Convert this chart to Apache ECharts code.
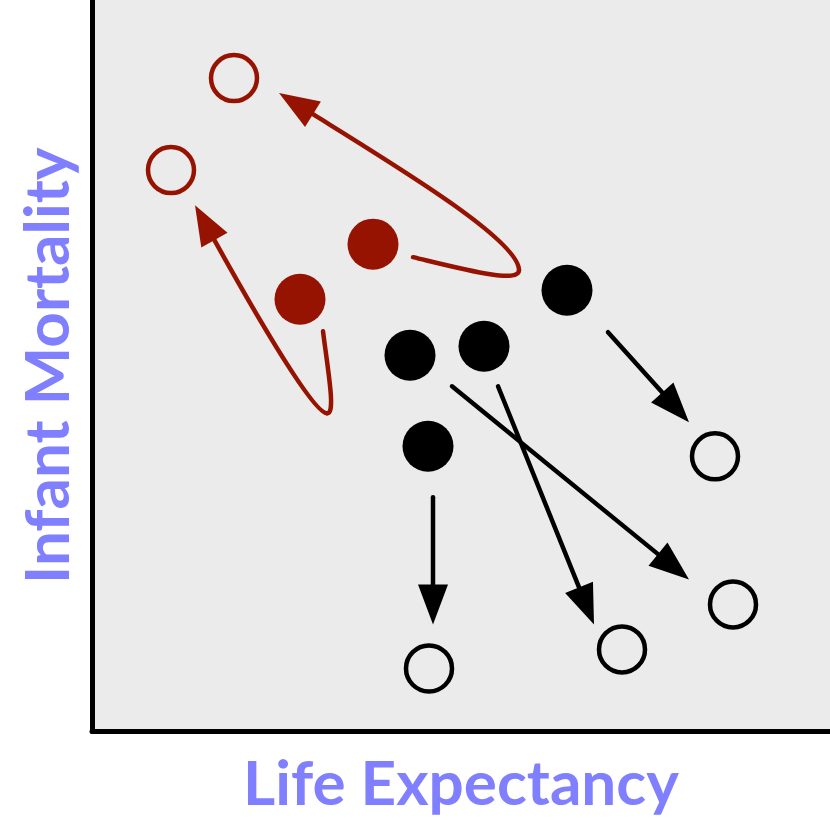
<!DOCTYPE html>
<html>
<head>
<meta charset="utf-8">
<script src="https://cdn.jsdelivr.net/npm/echarts@6/dist/echarts.min.js"></script>
<style>
html,body{margin:0;padding:0;background:#fff;}
#chart{width:830px;height:830px;}
</style>
</head>
<body>
<div id="chart"></div>
<script>
// Data values (abstract units, origin at lower-left of panel)
const xLabel = 'Life Expectancy';
const yLabel = 'Infant Mortality';

// Red "before" points
const redStart = [[281, 487], [208, 432]];
const redEnd = [[142, 653], [79, 561]];
// Black points
const blackStart = [[475, 441], [318, 376], [392, 385], [336, 285]];
const blackEnd = [[623, 275], [641, 127], [530, 82], [337, 63]];

// Straight black arrows: [fromX, fromY, toX(tip), toY(tip)]
const blackArrowFrom = [[516, 399], [360, 345], [406, 345], [341, 234]];
const blackArrowTo = [[597, 309], [597, 152], [502, 107], [341, 107]];

// Curved red arrows: start, ctrl1, ctrl2, turn, ctrl3, ctrl4, tip
const redCurveA = [[321, 474], [371, 462], [427, 447], [427, 461], [427, 491], [306, 564], [187, 638]];
const redCurveB = [[231, 400], [236, 360], [244, 317], [235, 318], [220, 318], [153, 436], [103, 526]];
const redCurves = [redCurveA, redCurveB];

const RED = '#951300';
const BLACK = '#000000';
const HEAD_LEN = 40, HEAD_HALF = 15, LW = 4.5;

function head(tip, from) {
  const dx = tip[0] - from[0], dy = tip[1] - from[1];
  const L = Math.hypot(dx, dy);
  const ux = dx / L, uy = dy / L;
  const base = [tip[0] - ux * HEAD_LEN, tip[1] - uy * HEAD_LEN];
  const px = -uy, py = ux;
  return {
    base: base,
    pts: [tip, [base[0] + px * HEAD_HALF, base[1] + py * HEAD_HALF], [base[0] - px * HEAD_HALF, base[1] - py * HEAD_HALF]]
  };
}

function renderStraight(params, api) {
  const a = api.coord(blackArrowFrom[params.dataIndex]);
  const t = api.coord(blackArrowTo[params.dataIndex]);
  const h = head(t, a);
  return {
    type: 'group',
    children: [
      { type: 'line', shape: { x1: a[0], y1: a[1], x2: h.base[0], y2: h.base[1] },
        style: { stroke: BLACK, lineWidth: LW, lineCap: 'round' } },
      { type: 'polygon', shape: { points: h.pts }, style: { fill: BLACK } }
    ]
  };
}

function renderCurve(params, api) {
  const c = redCurves[params.dataIndex].map(q => api.coord(q));
  const tip = c[6];
  const h = head(tip, c[5]);
  return {
    type: 'group',
    children: [
      { type: 'bezierCurve', shape: { x1: c[0][0], y1: c[0][1], cpx1: c[1][0], cpy1: c[1][1], cpx2: c[2][0], cpy2: c[2][1], x2: c[3][0], y2: c[3][1] },
        style: { stroke: RED, lineWidth: LW, fill: null, lineCap: 'round' } },
      { type: 'bezierCurve', shape: { x1: c[3][0], y1: c[3][1], cpx1: c[4][0], cpy1: c[4][1], cpx2: c[5][0], cpy2: c[5][1], x2: h.base[0], y2: h.base[1] },
        style: { stroke: RED, lineWidth: LW, fill: null, lineCap: 'round' } },
      { type: 'polygon', shape: { points: h.pts }, style: { fill: RED } }
    ]
  };
}

const chart = echarts.init(document.getElementById('chart'), null, { renderer: 'canvas' });
const axisCommon = {
  type: 'value',
  axisTick: { show: false },
  axisLabel: { show: false },
  splitLine: { show: false },
  axisLine: { show: true, onZero: false, lineStyle: { color: '#000', width: 5 } },
  nameLocation: 'middle',
  nameTextStyle: { color: '#7f7fff', fontFamily: 'Lato', fontWeight: 'bold', fontSize: 62 }
};
chart.setOption({
  animation: false,
  grid: { left: 92, right: 0, top: 0, bottom: 98.5, show: true, backgroundColor: '#ebebeb', borderWidth: 0 },
  xAxis: Object.assign({}, axisCommon, { min: 0, max: 738, name: xLabel, nameGap: 22 }),
  yAxis: Object.assign({}, axisCommon, { min: 0, max: 731, name: yLabel, nameGap: 12 }),
  series: [
    { type: 'custom', renderItem: renderStraight, data: blackArrowFrom.map((d, i) => [d[0], d[1], blackArrowTo[i][0], blackArrowTo[i][1]]), z: 2, silent: true },
    { type: 'custom', renderItem: renderCurve, data: redCurves.map(c => [c[0][0], c[0][1]]), z: 2, silent: true },
    { type: 'scatter', data: blackStart, symbolSize: 51, itemStyle: { color: BLACK, opacity: 1 }, z: 3 },
    { type: 'scatter', data: redStart, symbolSize: 51, itemStyle: { color: RED, opacity: 1 }, z: 3 },
    { type: 'scatter', data: blackEnd, symbolSize: 46, itemStyle: { color: 'rgba(0,0,0,0)', borderColor: BLACK, borderWidth: 4.5, opacity: 1 }, z: 3 },
    { type: 'scatter', data: redEnd, symbolSize: 46, itemStyle: { color: 'rgba(0,0,0,0)', borderColor: RED, borderWidth: 4.5, opacity: 1 }, z: 3 }
  ]
});
</script>
</body>
</html>
